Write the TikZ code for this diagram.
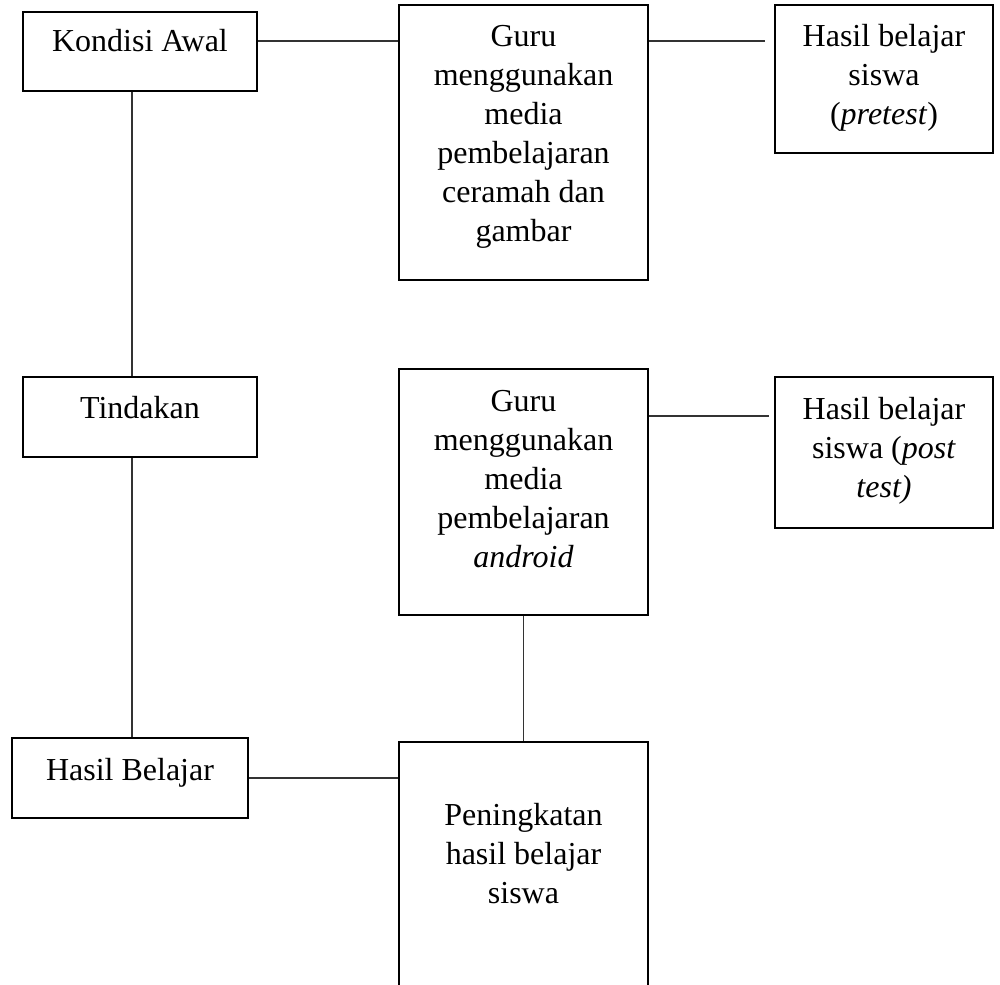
\documentclass[tikz,border=0pt]{standalone}
\usepackage{fontspec}
\setmainfont{Liberation Serif}
\usetikzlibrary{fit}
\begin{document}
\begin{tikzpicture}[x=0.5pt,y=-0.5pt,
  box/.style={draw=black, line width=1.3pt, inner sep=0pt},
  conn/.style={draw=black!80, line width=0.65pt},
  txt/.style={anchor=base, inner sep=0pt, font=\fontsize{16}{19.5}\selectfont}]
\useasboundingbox[fill=white] (0,0) rectangle (1000,984);
% boxes
\node[box, fit={(23,12) (257,91)}] (kondisi) {};
\node[box, fit={(399,5) (648,280)}] (guru1) {};
\node[box, fit={(775,5) (993,153)}] (hasil1) {};
\node[box, fit={(23,377) (257,457)}] (tindakan) {};
\node[box, fit={(399,369) (648,615)}] (guru2) {};
\node[box, fit={(775,377) (993,528)}] (hasil2) {};
\node[box, fit={(12,738) (248,818)}] (hb) {};
\node[box, fit={(399,742) (648,1010)}] (pening) {};
% texts
\node[txt] (tk) at (140,52) {Kondisi Awal};
\node[txt] (tg1) at (523.5,47) {\begin{tabular}[t]{@{}c@{}}Guru\\menggunakan\\media\\pembelajaran\\ceramah dan\\gambar\end{tabular}};
\node[txt] (th1) at (884,47) {\begin{tabular}[t]{@{}c@{}}Hasil belajar\\siswa\\(\textit{pretest})\end{tabular}};
\node[txt] (tt) at (140,418) {Tindakan};
\node[txt] (tg2) at (523.5,411) {\begin{tabular}[t]{@{}c@{}}Guru\\menggunakan\\media\\pembelajaran\\\textit{android}\end{tabular}};
\node[txt] (th2) at (884,419) {\begin{tabular}[t]{@{}c@{}}Hasil belajar\\siswa (\textit{post}\\\textit{test)}\end{tabular}};
\node[txt] (thb) at (130,780) {Hasil Belajar};
\node[txt] (tp) at (523.5,825) {\begin{tabular}[t]{@{}c@{}}Peningkatan\\hasil belajar\\siswa\end{tabular}};
% reference coordinates for connector rows/columns
\coordinate (r1) at (0,41);
\coordinate (r2) at (0,416);
\coordinate (vx) at (132,0);
% connectors
\draw[conn] (kondisi.east |- r1) -- (guru1.west |- r1);
\draw[conn] (guru1.east |- r1) -- ([xshift=-4.5pt]hasil1.west |- r1);
\draw[conn] (kondisi.south -| vx) -- (tindakan.north -| vx);
\draw[conn] (tindakan.south -| vx) -- (hb.north -| vx);
\draw[conn] (guru2.east |- r2) -- ([xshift=-2.5pt]hasil2.west |- r2);
\draw[conn] (guru2.south) -- (pening.north);
\draw[conn] (hb.east) -- (hb.east -| pening.west);
\end{tikzpicture}
\end{document}
